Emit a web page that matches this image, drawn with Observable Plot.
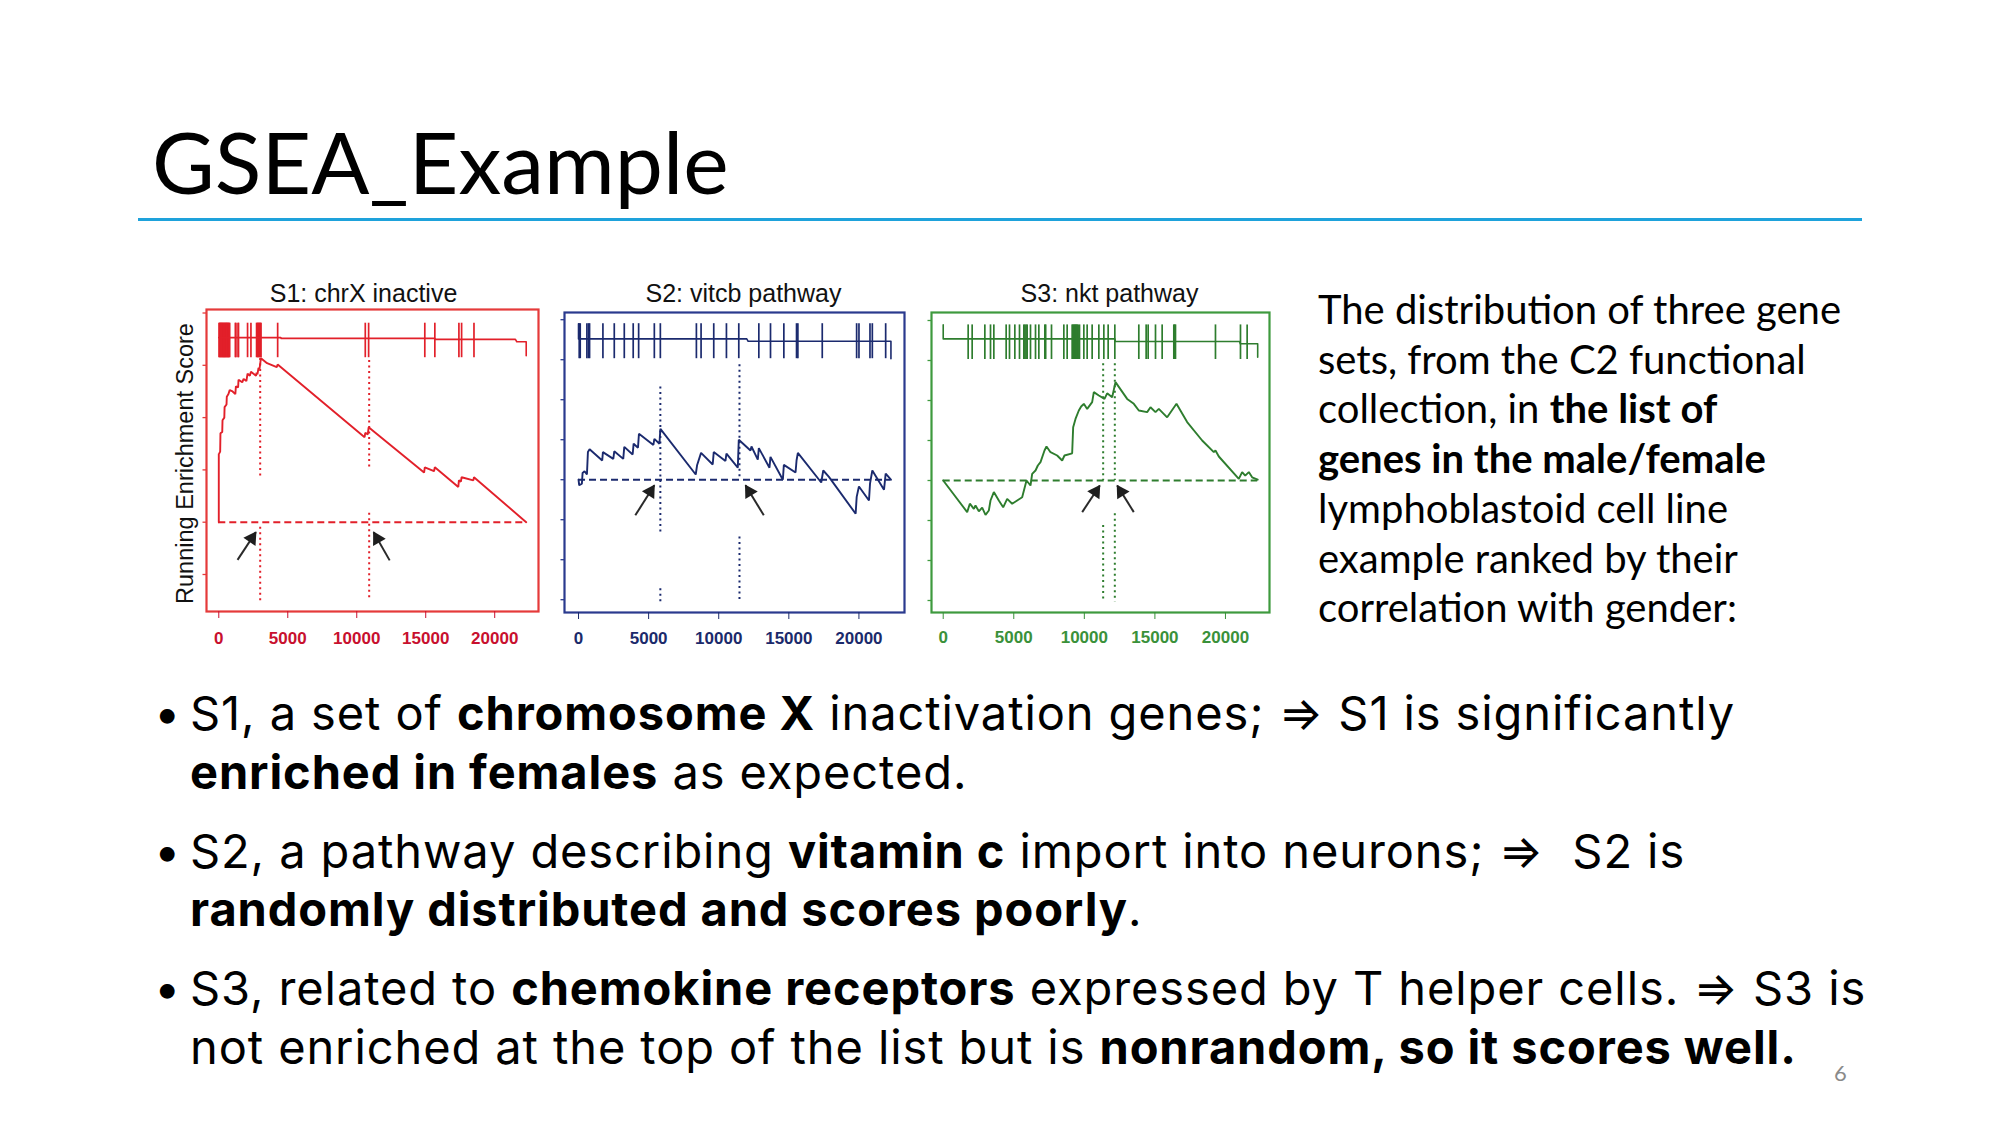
<!DOCTYPE html>
<html>
<head>
<meta charset="utf-8">
<script src="https://cdn.jsdelivr.net/npm/d3@7"></script>
<script src="https://cdn.jsdelivr.net/npm/@observablehq/plot@0.6"></script>
<style>
  html, body { margin: 0; padding: 0; background: #fff; }
  body { width: 2000px; height: 1125px; position: relative; overflow: hidden; font-family: Lato, "Open Sans", sans-serif; color: #000; }
  #title { position: absolute; left: 152px; top: 118px; font-size: 86px; line-height: 86px; white-space: nowrap; }
  #rule { position: absolute; left: 138px; top: 218px; width: 1724px; height: 3px; background: #1EA2DB; }
  .panel { position: absolute; }
  #desc { position: absolute; left: 1318px; top: 285px; font-size: 40px; line-height: 49.7px; white-space: nowrap; }
  #bullets { position: absolute; left: 190px; top: 684px; font-family: Inter, Lato, sans-serif; font-size: 47px; letter-spacing: 0.9px; line-height: 58.5px; white-space: nowrap; }
  .b { position: relative; }
  .b + .b { margin-top: 20.6px; }
  .b .dot { position: absolute; left: -36px; }
  #pnum { position: absolute; left: 1834px; top: 1059px; font-size: 22px; color: #8a8a8a; }
  b { font-weight: 700; }
</style>
</head>
<body>
<div id="title">GSEA_Example</div>
<div id="rule"></div>
<div id="s1" class="panel" style="left:130px;top:270px"></div>
<div id="s2" class="panel" style="left:550px;top:270px"></div>
<div id="s3" class="panel" style="left:920px;top:270px"></div>
<div id="desc">The distribution of three gene<br>sets, from the C2 functional<br>collection, in <b>the list of</b><br><b>genes in the male/female</b><br>lymphoblastoid cell line<br>example ranked by their<br>correlation with gender:</div>
<div id="bullets">
  <div class="b"><span class="dot">•</span>S1, a set of <b>chromosome X</b> inactivation genes; ⇒ S1 is significantly<br><b>enriched in females</b> as expected.</div>
  <div class="b"><span class="dot">•</span>S2, a pathway describing <b>vitamin c</b> import into neurons; ⇒&nbsp; S2 is<br><b>randomly distributed and scores poorly</b>.</div>
  <div class="b"><span class="dot">•</span>S3, related to <b>chemokine receptors</b> expressed by T helper cells. ⇒ S3 is<br>not enriched at the top of the list but is <b>nonrandom, so it scores well.</b></div>
</div>
<div id="pnum">6</div>
<script>
// ---------- shared ----------
const N = 22283;
const xTicks = [0, 5000, 10000, 15000, 20000];
const yLabel = ["Running Enrichment Score"];

// ---------- S1: chrX inactive ----------
const s1Title = ["S1: chrX inactive"];
const s1Hits = [20,60,100,140,180,220,260,300,340,380,420,460,500,540,580,620,660,700,740,790,
  1200,1240,1400,1430,2085,2330,2739,2790,2840,2880,2930,2980,3030,3055,4267,
  10618,10861,14933,15660,17405,17600,18497];
const s1HitRange = [0.629, 0.761];
const s1ES = [[0,0],[0,0.262],[24,0.262],[100,0.27],[120,0.34],[250,0.345],[270,0.39],[400,0.40],[420,0.44],
  [560,0.45],[580,0.48],[700,0.49],[790,0.505],[1000,0.50],[1200,0.49],[1240,0.52],[1400,0.515],[1430,0.545],
  [1700,0.535],[1800,0.548],[2000,0.54],[2085,0.568],[2250,0.56],[2330,0.575],[2700,0.56],[2739,0.572],
  [2800,0.565],[2880,0.59],[2950,0.585],[3055,0.627],[3500,0.608],[4200,0.593],[4267,0.603],[10570,0.325],
  [10618,0.342],[10800,0.336],[10861,0.363],[14880,0.19],[14933,0.21],[15600,0.195],[15660,0.21],
  [17360,0.135],[17405,0.16],[17550,0.155],[17600,0.172],[18450,0.16],[18497,0.172],[22283,0]];
const s1Bar = [[0,0.706],[4500,0.706],[4520,0.703],[15660,0.703],[15700,0.699],[21500,0.699],[21600,0.69],[22283,0.69],[22283,0.637]];
const s1Dotted = [[3000,0.626,0.166],[3000,-0.019,-0.30],[10900,0.618,0.208],[10900,0.034,-0.30]];
const s1Arrows = [[1360,-0.144,2691,-0.038],[12386,-0.146,11222,-0.038]];
const s1YTicks = [-0.2,0,0.2,0.4,0.6,0.8];

// ---------- S2: vitcb pathway ----------
const s2Title = ["S2: vitcb pathway"];
const s2Hits = [50,121,598,716,788,1740,2550,3264,3900,4288,5407,5836,8407,8741,9645,10550,11431,
  12860,13693,14645,15550,15645,17384,19836,20002,20788,20955,21907];
const s2HitRange = [0.3025, 0.39];
const s2ES = [[0,0],[50,-0.014],[240,-0.010],[290,0.017],[430,0.021],[600,0.013],[670,0.069],[790,0.076],
  [1690,0.048],[1740,0.069],[2480,0.052],[2550,0.071],[3190,0.052],[3264,0.082],[3860,0.063],[3930,0.090],
  [4240,0.080],[4310,0.115],[5340,0.087],[5410,0.102],[5770,0.090],[5840,0.127],[8360,0.013],[8455,0.036],
  [8740,0.067],[9570,0.038],[9645,0.069],[10480,0.047],[10550,0.065],[11360,0.030],[11430,0.100],
  [12265,0.073],[12336,0.083],[12788,0.050],[12860,0.079],[13620,0.030],[13690,0.057],[14574,0.000],
  [14645,0.037],[15479,0.018],[15550,0.048],[15645,0.067],[17312,-0.007],[17455,0.023],[17860,0.007],
  [19765,-0.085],[19840,-0.043],[20000,-0.017],[20717,-0.052],[20790,-0.010],[20955,0.023],[21789,-0.025],
  [21907,0.015],[22283,0]];
const s2Bar = [[0,0.39],[0,0.352],[12000,0.352],[12100,0.346],[22283,0.346],[22283,0.3025]];
const s2Dotted = [[5836,0.2315,-0.131],[5836,-0.2725,-0.306],[11480,0.2875,0.0025],[11480,-0.1435,-0.306]];
const s2Arrows = [[4050,-0.089,5407,-0.014],[13215,-0.089,11907,-0.014]];
const s23YTicks = [-0.3,-0.2,-0.1,0,0.1,0.2,0.3,0.4];

// ---------- S3: nkt pathway ----------
const s3Title = ["S3: nkt pathway"];
const s3Hits = [1769,2052,2950,3351,3587,4461,4697,5075,5406,5713,5790,5870,5949,6185,6540,6776,7201,7260,
  7673,8547,8783,9137,9200,9255,9320,9374,9430,9492,9560,9657,9964,10200,10554,11027,11381,11688,12160,
  13860,14380,14522,15042,15514,16340,16400,16458,19292,21064,21536];
const s3HitRange = [0.3025, 0.389];
const s3ES = [[0,0],[1698,-0.079],[1887,-0.058],[2171,-0.071],[2288,-0.0625],[2525,-0.077],[2761,-0.068],
  [2997,-0.086],[3233,-0.075],[3351,-0.05],[3587,-0.029],[3941,-0.05],[4249,-0.067],[4532,-0.046],
  [4886,-0.058],[5241,-0.05],[5595,-0.042],[5902,0],[6185,-0.0125],[6303,0.0167],[6540,0.025],[6705,0.0375],
  [6894,0.0458],[7177,0.075],[7319,0.085],[7602,0.0708],[8075,0.0625],[8429,0.05],[8594,0.0625],[9137,0.068],
  [9208,0.133],[9374,0.154],[9609,0.175],[9775,0.185],[9964,0.1917],[10200,0.179],[10554,0.196],[10672,0.221],
  [11027,0.2125],[11428,0.204],[11617,0.218],[11972,0.208],[12207,0.246],[13034,0.204],[13506,0.1917],
  [13860,0.175],[14451,0.171],[14687,0.183],[15042,0.171],[15277,0.179],[15868,0.158],[16529,0.1917],
  [17285,0.146],[18348,0.1],[19174,0.0708],[19292,0.075],[19529,0.06],[20945,0.004],[21182,0.021],
  [21400,0.012],[21654,0.021],[21890,0.008],[22283,0.002]];
const s3Bar = [[0,0.389],[0,0.354],[12160,0.354],[12200,0.3475],[21000,0.3475],[21050,0.342],[22283,0.342],[22283,0.308]];
const s3Dotted = [[11333,0.2917,0],[11333,-0.1125,-0.304],[12160,0.2917,0],[12160,-0.083,-0.304]];
const s3Arrows = [[9848,-0.079,11095,-0.0125],[13504,-0.079,12328,-0.0125]];

function panel(cfg) {
  const iw = cfg.width - cfg.ml - cfg.mr, ih = cfg.height - cfg.mt - cfg.mb;
  const kx = iw / (cfg.xd[1] - cfg.xd[0]);
  const ky = ih / (cfg.yd[1] - cfg.yd[0]);
  // arrowhead placement: triangle whose tip sits at the head point
  const heads = cfg.arrows.map(([x1, y1, x2, y2]) => {
    const px = (x2 - x1) * kx, py = -(y2 - y1) * ky;
    const len = Math.hypot(px, py), ux = px / len, uy = py / len;
    const back = 7.5;
    return {x: x2 - back * ux / kx, y: y2 + back * uy / ky, angle: Math.atan2(ux, -uy) * 180 / Math.PI};
  });
  const left = cfg.xd[0];
  const marks = [
    Plot.frame({stroke: cfg.frame, strokeWidth: 2.2}),
    // small y tick marks just outside the left edge (no labels)
    Plot.ruleY(cfg.yTicks, {y: d => d, x1: () => left - 3.5 / kx, x2: () => left, stroke: cfg.frame, strokeWidth: 1.3}),
    Plot.axisX({ticks: xTicks, tickFormat: "d", tickSize: 7, tickPadding: cfg.tp, fontSize: 17, fontWeight: "bold",
      color: cfg.labelColor, label: null}),
    Plot.ruleY([0], {x1: () => 0, x2: () => N, stroke: cfg.color, strokeWidth: 2, strokeDasharray: "7,4"}),
    Plot.ruleX(cfg.dotted, {x: d => d[0], y1: d => d[1], y2: d => d[2], stroke: cfg.color, strokeWidth: 2, strokeDasharray: "2,3.5"}),
    Plot.ruleX(cfg.hits, {x: d => d, y1: () => cfg.hitRange[0], y2: () => cfg.hitRange[1], stroke: cfg.color, strokeWidth: 1.7}),
    Plot.line(cfg.bar, {x: d => d[0], y: d => d[1], stroke: cfg.color, strokeWidth: 1.6}),
    Plot.line(cfg.es, {x: d => d[0], y: d => d[1], stroke: cfg.color, strokeWidth: 1.9, strokeLinejoin: "miter"}),
    Plot.link(cfg.arrows, {x1: d => d[0], y1: d => d[1], x2: d => d[2], y2: d => d[3], stroke: "#2a2a2a", strokeWidth: 2}),
    Plot.dot(heads, {x: "x", y: "y", rotate: "angle", symbol: "triangle", r: 5.4, fill: "#1e1e1e", stroke: "none"}),
    Plot.text(cfg.title, {text: d => d, frameAnchor: "top", lineAnchor: "bottom", dx: cfg.tdx, dy: cfg.tdy,
      fontSize: 25, fontWeight: "normal", fill: "#111"})
  ];
  if (cfg.ylabel) {
    marks.push(Plot.text(yLabel, {text: d => d, frameAnchor: "left", rotate: -90, dx: -21, dy: 3,
      textAnchor: "middle", lineAnchor: "middle", fontSize: 23.5, fontWeight: "normal", fill: "#111"}));
  }
  return Plot.plot({
    width: cfg.width, height: cfg.height,
    marginLeft: cfg.ml, marginRight: cfg.mr, marginTop: cfg.mt, marginBottom: cfg.mb,
    x: {domain: cfg.xd}, y: {domain: cfg.yd, axis: null},
    style: {background: "none", overflow: "visible", fontFamily: "'Liberation Sans', Arial, sans-serif"},
    marks
  });
}

document.getElementById("s1").append(panel({
  width: 420, height: 390, ml: 76, mr: 12, mt: 39, mb: 49,
  xd: [-891, 23174], yd: [-0.3415, 0.8134], yTicks: s1YTicks,
  color: "#E2202A", frame: "#E53A3A", labelColor: "#C8102E", tp: 13,
  hits: s1Hits, hitRange: s1HitRange, es: s1ES, bar: s1Bar, dotted: s1Dotted, arrows: s1Arrows,
  title: s1Title, tdx: -9, tdy: -7.3, ylabel: true
}));
document.getElementById("s2").append(panel({
  width: 370, height: 390, ml: 14, mr: 16, mt: 42, mb: 48,
  xd: [-1000, 23250], yd: [-0.332, 0.418], yTicks: s23YTicks,
  color: "#1B2A6E", frame: "#2A3A8E", labelColor: "#1B2A6B", tp: 12,
  hits: s2Hits, hitRange: s2HitRange, es: s2ES, bar: s2Bar, dotted: s2Dotted, arrows: s2Arrows,
  title: s2Title, tdx: 9, tdy: -10.3, ylabel: false
}));
document.getElementById("s3").append(panel({
  width: 360, height: 390, ml: 11, mr: 11, mt: 42, mb: 48,
  xd: [-830, 23120], yd: [-0.33, 0.42], yTicks: s23YTicks,
  color: "#2E7D2E", frame: "#3E9A3E", labelColor: "#3A913A", tp: 11,
  hits: s3Hits, hitRange: s3HitRange, es: s3ES, bar: s3Bar, dotted: s3Dotted, arrows: s3Arrows,
  title: s3Title, tdx: 9, tdy: -10.3, ylabel: false
}));
</script>
</body>
</html>
